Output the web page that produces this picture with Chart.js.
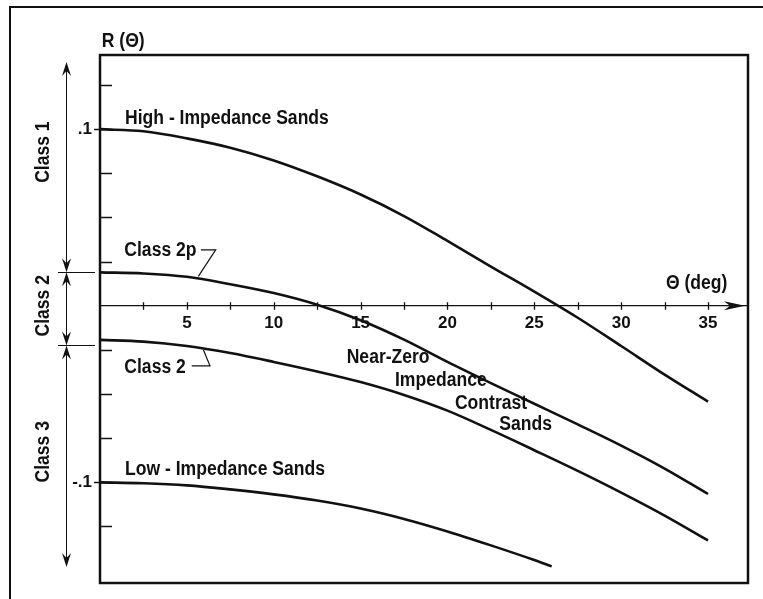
<!DOCTYPE html>
<html>
<head>
<meta charset="utf-8">
<style>
  html, body { margin: 0; padding: 0; background: #ffffff; }
  canvas { display: block; }
</style>
<script src="https://cdn.jsdelivr.net/npm/chart.js@4"></script>
</head>
<body>
<canvas id="c" width="763" height="599"></canvas>
<script>
// ---- data ----
const angles = [0, 2.5, 5, 7.5, 10, 12.5, 15, 17.5, 20, 22.5, 25, 27.5, 30, 32.5, 35];
const highImpedance = [0.1, 0.0988, 0.0948, 0.0895, 0.0823, 0.0733, 0.0630, 0.0508, 0.0367, 0.0222, 0.0080, -0.0068, -0.0228, -0.0390, -0.0543];
const class2p = [0.0189, 0.0183, 0.0164, 0.0122, 0.0072, 0.0006, -0.0082, -0.0192, -0.0318, -0.0438, -0.0555, -0.0672, -0.0792, -0.0922, -0.1066];
const class2 = [-0.0193, -0.0203, -0.0228, -0.0268, -0.0318, -0.0372, -0.0432, -0.0505, -0.0594, -0.0703, -0.0818, -0.0935, -0.1058, -0.1188, -0.1329];
const lowAngles = [0, 2.5, 5, 7.5, 10, 12.5, 15, 17.5, 20, 22.5, 25, 26];
const lowImpedance = [-0.1, -0.1005, -0.1017, -0.1040, -0.1068, -0.1103, -0.1148, -0.1207, -0.1278, -0.1357, -0.1440, -0.1476];

const xTickValues = [2.5, 5, 7.5, 10, 12.5, 15, 17.5, 20, 22.5, 25, 27.5, 30, 32.5, 35];
const xTickLabels = ['', '5', '', '10', '', '15', '', '20', '', '25', '', '30', '', '35'];
const yTickLabels = { '0.1': '.1', '-0.1': '-.1' };
const classNames = ['Class 1', 'Class 2', 'Class 3'];
const classEdges = [0.138, 0.019, -0.0225, -0.148];
const classLabelAt = [0.087, 0.0, -0.0827];

const FONT = "'Liberation Sans', Arial, sans-serif";
const INK = '#111111';

function pts(xs, ys) { return xs.map((x, i) => ({ x: x, y: ys[i] })); }
function ds(data) {
  return { data: data, borderColor: INK, borderWidth: 2.6, pointRadius: 0,
           cubicInterpolationMode: 'monotone', borderCapStyle: 'butt', fill: false };
}

const decor = {
  id: 'decor',
  afterDraw(chart) {
    const ctx = chart.ctx, ca = chart.chartArea;
    const xs = chart.scales.x, ys = chart.scales.y;
    const X = v => xs.getPixelForValue(v), Y = v => ys.getPixelForValue(v);
    ctx.save();
    ctx.strokeStyle = INK; ctx.fillStyle = INK;

    // outer frame (left + top visible)
    ctx.lineWidth = 2;
    ctx.beginPath(); ctx.moveTo(10, 599); ctx.lineTo(10, 7); ctx.lineTo(763, 7); ctx.stroke();

    // plot box
    ctx.lineWidth = 2.5;
    ctx.strokeRect(ca.left, ca.top, ca.right - ca.left, ca.bottom - ca.top);

    // inner y ticks
    ctx.lineWidth = 1.5;
    ys.ticks.forEach(t => {
      const v = t.value;
      if (Math.abs(v) > 1e-6 && Math.abs(v) < 0.126) {
        const y = Math.round(Y(v)) + 0.5;
        ctx.beginPath(); ctx.moveTo(ca.left, y); ctx.lineTo(ca.left + 12, y); ctx.stroke();
      }
    });

    // x ticks crossing the zero axis
    const y0 = Y(0);
    ctx.lineWidth = 1.3;
    xs.ticks.forEach(t => {
      const x = Math.round(X(t.value)) + 0.5;
      ctx.beginPath(); ctx.moveTo(x, y0 - 3.5); ctx.lineTo(x, y0 + 4); ctx.stroke();
    });

    // arrow head on the angle axis
    const tip = ca.right - 3;
    ctx.beginPath();
    ctx.moveTo(tip, y0); ctx.lineTo(tip - 21, y0 - 4.5); ctx.lineTo(tip - 15, y0);
    ctx.lineTo(tip - 21, y0 + 4.5); ctx.closePath(); ctx.fill();

    // class ranges on the left
    const ax = ca.left - 34;
    function head(x, yTip, dir) {
      ctx.beginPath();
      ctx.moveTo(x, yTip); ctx.lineTo(x - 4.5, yTip - dir * 14);
      ctx.lineTo(x, yTip - dir * 9); ctx.lineTo(x + 4.5, yTip - dir * 14);
      ctx.closePath(); ctx.fill();
    }
    ctx.lineWidth = 1;
    for (let i = 0; i < classNames.length; i++) {
      const yA = Y(classEdges[i]), yB = Y(classEdges[i + 1]);
      ctx.beginPath(); ctx.moveTo(ax + 0.5, yA + 4); ctx.lineTo(ax + 0.5, yB - 4); ctx.stroke();
      head(ax + 0.5, yA, -1); head(ax + 0.5, yB, 1);
    }
    for (let i = 1; i < classEdges.length - 1; i++) {
      const y = Math.round(Y(classEdges[i])) + 0.5;
      ctx.beginPath(); ctx.moveTo(ca.left - 42, y); ctx.lineTo(ca.left - 5, y); ctx.stroke();
    }

    const SX = 0.9;
    ctx.font = 'bold 19.5px ' + FONT;
    ctx.textAlign = 'center'; ctx.textBaseline = 'middle';
    for (let i = 0; i < classNames.length; i++) {
      ctx.save();
      ctx.translate(ca.left - 56, Y(classLabelAt[i]));
      ctx.rotate(-Math.PI / 2);
      ctx.scale(SX, 1);
      ctx.fillText(classNames[i], 0, 0);
      ctx.restore();
    }

    // curve labels and axis titles
    ctx.textAlign = 'left'; ctx.textBaseline = 'alphabetic';
    const label = (s, t, r) => {
      ctx.save(); ctx.translate(X(t), Y(r)); ctx.scale(SX, 1); ctx.fillText(s, 0, 0); ctx.restore();
    };
    label('High - Impedance Sands', 1.44, 0.1031);
    label('Class 2p', 1.40, 0.0279);
    label('Class 2', 1.40, -0.0381);
    label('Low - Impedance Sands', 1.44, -0.0957);
    label('Near-Zero', 14.2, -0.0324);
    label('Impedance', 16.98, -0.0457);
    label('Contrast', 20.43, -0.0585);
    label('Sands', 22.98, -0.0702);
    label('Θ (deg)', 32.58, 0.0095);
    label('R (Θ)', 0.1, 0.1468);

    // leader lines
    ctx.lineWidth = 1.2;
    ctx.beginPath();
    ctx.moveTo(X(5.81), Y(0.0317)); ctx.lineTo(X(6.66), Y(0.0317)); ctx.lineTo(X(5.66), Y(0.0166));
    ctx.stroke();
    ctx.beginPath();
    ctx.moveTo(X(5.28), Y(-0.034)); ctx.lineTo(X(6.33), Y(-0.034)); ctx.lineTo(X(5.95), Y(-0.0249));
    ctx.stroke();

    ctx.restore();
  }
};

new Chart(document.getElementById('c'), {
  type: 'line',
  data: {
    datasets: [
      ds(pts(angles, highImpedance)),
      ds(pts(angles, class2p)),
      ds(pts(angles, class2)),
      ds(pts(lowAngles, lowImpedance))
    ]
  },
  options: {
    responsive: false,
    animation: false,
    devicePixelRatio: 1,
    layout: { padding: { left: 0, top: 55, right: 15, bottom: 16 } },
    plugins: { legend: { display: false }, tooltip: { enabled: false } },
    scales: {
      x: {
        type: 'linear',
        position: { y: 0 },
        min: 0, max: 37.3,
        afterBuildTicks: s => { s.ticks = xTickValues.map(v => ({ value: v })); },
        grid: { display: false, drawTicks: false },
        border: { display: true, color: INK, width: 1.2 },
        ticks: {
          autoSkip: false, maxRotation: 0, padding: 7,
          color: INK, font: { family: FONT, size: 17, weight: 'bold' },
          callback: (v, i) => xTickLabels[i]
        }
      },
      y: {
        type: 'linear',
        position: 'left',
        min: -0.157, max: 0.142,
        afterFit: s => { s.width = 100; },
        border: { display: false },
        grid: {
          display: true, drawOnChartArea: false, drawTicks: true, tickLength: 6, tickWidth: 1.5,
          tickColor: c => (c.tick && Math.abs(Math.abs(c.tick.value) - 0.1) < 1e-6) ? INK : 'rgba(0,0,0,0)'
        },
        ticks: {
          stepSize: 0.025, autoSkip: false, padding: 2,
          color: INK, font: { family: FONT, size: 17, weight: 'bold' },
          callback: v => {
            if (Math.abs(v - 0.1) < 1e-6) return yTickLabels['0.1'];
            if (Math.abs(v + 0.1) < 1e-6) return yTickLabels['-0.1'];
            return '';
          }
        }
      }
    }
  },
  plugins: [decor]
});
</script>
</body>
</html>
